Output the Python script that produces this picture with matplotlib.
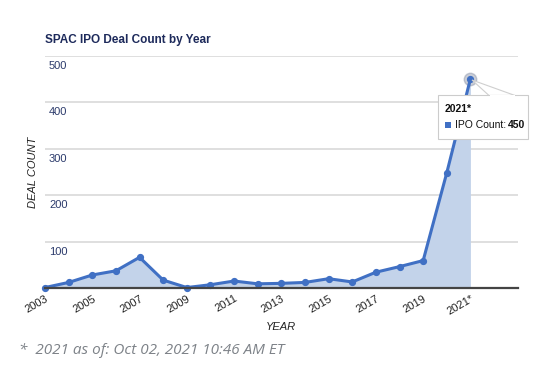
import matplotlib
matplotlib.use("Agg")
import matplotlib.pyplot as plt
from matplotlib.patches import Rectangle, Polygon
import matplotlib.transforms as mtransforms

years = list(range(2003, 2022))
counts = [1, 12, 28, 37, 66, 17, 1, 7, 15, 9, 10, 12, 20, 13, 34, 46, 59, 248, 450]
tick_years = list(range(2003, 2022, 2))
tick_labels = [str(y) for y in tick_years[:-1]] + ["2021*"]
y_ticks = [100, 200, 300, 400, 500]

W, H = 538, 371
fig = plt.figure(figsize=(W / 100, H / 100), dpi=100)
fig.patch.set_facecolor("white")

def px(x, y):
    return (x / W, 1 - y / H)

left, right, top, bottom = 45, 517.7, 55.6, 288
ax = fig.add_axes([left / W, 1 - bottom / H, (right - left) / W, (bottom - top) / H])
ax.set_xlim(2003, 2023)
ax.set_ylim(0, 500)
ax.set_facecolor("white")

for s in ["left", "right", "top"]:
    ax.spines[s].set_visible(False)
ax.spines["bottom"].set_color("#444444")
ax.spines["bottom"].set_linewidth(1.6)
ax.spines["bottom"].set_zorder(5)

for v in y_ticks:
    ax.axhline(v, color="#d9d9d9", lw=1.2, zorder=0)
ax.set_yticks([])
offs = mtransforms.ScaledTranslation(0, -10 / 100, fig.dpi_scale_trans)
for v in y_ticks:
    ax.text(4 / (right - left), v, str(v), transform=mtransforms.blended_transform_factory(ax.transAxes, ax.transData) + offs,
            ha="left", va="center", fontsize=8, color="#2b3a6b", family="Liberation Sans")

ax.fill_between(years, counts, 0, color="#c3d3ea", zorder=1, lw=0)
ax.plot(years, counts, color="#4070c4", lw=2.2, marker="o", ms=4.2, zorder=3, clip_on=False)
ax.plot([years[-1]], [counts[-1]], "o", ms=9, color="#8a93a8", alpha=0.45, zorder=2, clip_on=False)

ax.set_xticks(tick_years)
ax.set_xticklabels(tick_labels, rotation=30, ha="right", rotation_mode="anchor",
                   fontsize=8, color="#222222", family="Liberation Sans")
ax.tick_params(axis="x", length=0, pad=4)

fig.text(*px(45, 39.5), "SPAC IPO Deal Count by Year", ha="left", va="center",
         fontsize=8.5, fontweight="bold", color="#1d2a5b", family="Liberation Sans")
fig.text(*px(33, 172), "DEAL COUNT", rotation=90, ha="center", va="center",
         fontsize=8, style="italic", color="#222222", family="Liberation Sans")
fig.text(*px(281, 327), "YEAR", ha="center", va="center",
         fontsize=8, style="italic", color="#222222", family="Liberation Sans")
fig.text(*px(19, 350), "*  2021 as of: Oct 02, 2021 10:46 AM ET", ha="left", va="center",
         fontsize=11, style="italic", color="#7d8288", family="Open Sans")

# tooltip
bx0, by0, bx1, by1 = 438, 95, 528, 139
pointer = Polygon([px(472, 80), px(489, 95.5), px(515, 95.5)], closed=True,
                  transform=fig.transFigure, facecolor="white", edgecolor="#cfcfcf", lw=0.8, zorder=10)
fig.add_artist(pointer)
box = Rectangle(px(bx0, by1), (bx1 - bx0) / W, (by1 - by0) / H, transform=fig.transFigure,
                facecolor="white", edgecolor="#cccccc", lw=0.8, zorder=11)
fig.add_artist(box)
cover = Rectangle(px(489.5, 96.5), (515 - 489.5) / W, 1.5 / H, transform=fig.transFigure,
                  facecolor="white", edgecolor="none", zorder=12)
fig.add_artist(cover)
fig.text(*px(445, 109), "2021*", ha="left", va="center", fontsize=7.5, fontweight="bold",
         color="#111111", family="Liberation Sans", zorder=13)
sq = Rectangle(px(445, 128), 6 / W, 6 / H, transform=fig.transFigure,
               facecolor="#4070c4", edgecolor="none", zorder=13)
fig.add_artist(sq)
fig.text(*px(455, 125), "IPO Count:", ha="left", va="center", fontsize=7.5,
         color="#111111", family="Liberation Sans", zorder=13)
fig.text(*px(525, 125), str(counts[-1]), ha="right", va="center", fontsize=7.5,
         fontweight="bold", color="#111111", family="Liberation Sans", zorder=13)

fig.savefig("out.png", dpi=100)
